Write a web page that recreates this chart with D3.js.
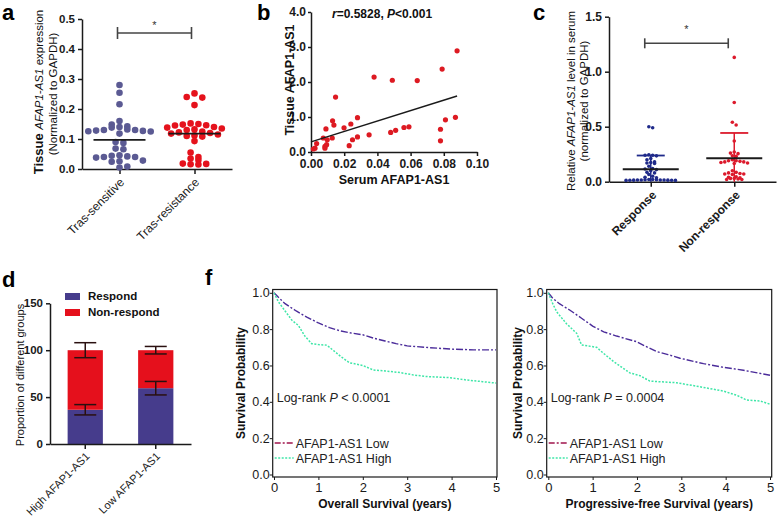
<!DOCTYPE html>
<html><head><meta charset="utf-8">
<script src="https://cdn.jsdelivr.net/npm/d3@7"></script>
<style>
body{margin:0;background:#fff;}
svg{font-family:"Liberation Sans",Arial,sans-serif;}
</style></head>
<body>
<svg id="fig" width="778" height="520"></svg>
<script>
// ---------- DATA ----------
// panel a
const aCategories = ["Tras-sensitive","Tras-resistance"];
const aSensitive = [0.28,0.254,0.216,0.16,0.148,0.142,0.14,0.138,0.132,0.13,0.13,0.128,0.127,0.126,0.125,0.118,0.09,0.087,0.068,0.066,0.046,0.044,0.042,0.04,0.04,0.038,0.028,0.026,0.024,0.008,0.005];
const aResistance = [0.252,0.24,0.238,0.213,0.152,0.15,0.148,0.146,0.145,0.14,0.138,0.135,0.132,0.13,0.125,0.122,0.12,0.118,0.115,0.112,0.11,0.108,0.093,0.055,0.04,0.035,0.03,0.018,0.017,0.016,0.015];
const aMeans = [0.097,0.118];
const aTicks = [0,0.1,0.2,0.3,0.4,0.5];
// panel b
const bSerum = [0.0014,0.0024,0.0034,0.0074,0.0084,0.0084,0.0094,0.009,0.0098,0.0128,0.013,0.0138,0.0148,0.0199,0.023,0.024,0.025,0.028,0.028,0.035,0.038,0.048,0.049,0.051,0.056,0.059,0.064,0.078,0.078,0.079,0.081,0.087,0.088];
const bTissue = [0.086,0.11,0.24,0.40,0.16,0.11,0.21,0.66,0.35,0.40,0.89,0.77,1.57,0.69,0.18,0.80,0.35,0.98,0.43,0.49,2.14,0.56,2.05,0.62,0.70,0.72,2.04,0.65,0.32,2.37,0.92,0.99,2.89];
const bFit = {intercept:0.29, slope:14.9, xMax:0.088};
const bXTicks = [0,0.02,0.04,0.06,0.08,0.10];
const bYTicks = [0,1,2,3,4];
// panel c
const cCategories = ["Response","Non-response"];
const cResponse = [0.50,0.49,0.245,0.24,0.24,0.235,0.21,0.2,0.18,0.175,0.17,0.165,0.14,0.12,0.115,0.11,0.10,0.085,0.08,0.065,0.05,0.04,0.035,0.02,0.02,0.018,0.018,0.016,0.016,0.015,0.015,0.014,0.014,0.013,0.013,0.012,0.012];
const cNonResponse = [1.13,0.72,0.54,0.515,0.37,0.27,0.26,0.255,0.235,0.23,0.2,0.19,0.19,0.185,0.18,0.18,0.175,0.17,0.165,0.1,0.085,0.08,0.075,0.07,0.07,0.065,0.045,0.04,0.035,0.03,0.03,0.025,0.02,0.02];
const cMeans = [0.113,0.213];
const cSD = [0.125,0.23];
const cTicks = [0,0.5,1.0,1.5];
// panel d
const dCategories = ["High AFAP1-AS1","Low AFAP1-AS1"];
const dRespond = [36.5,59.5];
const dRespondErr = [5.5,7.2];
const dNonRespond = [63.5,40.5];
const dNonRespondErr = [8,4];
const dTicks = [0,50,100,150];
// panel f
const osLowTime = [0,0.1,0.25,0.5,0.75,1,1.25,1.5,1.75,2,2.25,2.5,2.75,3,3.5,4,4.5,5];
const osLow = [1.0,0.975,0.94,0.9,0.865,0.834,0.808,0.79,0.778,0.769,0.75,0.735,0.72,0.708,0.698,0.69,0.686,0.686];
const osHighTime = [0,0.1,0.25,0.4,0.55,0.7,0.85,1.0,1.19,1.35,1.5,1.7,2.0,2.24,2.5,2.84,3.14,3.44,3.97,4.34,4.7,5];
const osHigh = [1.0,0.95,0.9,0.85,0.82,0.76,0.72,0.715,0.712,0.68,0.65,0.615,0.6,0.575,0.57,0.561,0.548,0.539,0.533,0.52,0.511,0.503];
const pfsLowTime = [0,0.1,0.25,0.49,0.75,1.0,1.25,1.54,1.99,2.2,2.44,2.7,2.97,3.5,3.95,4.4,5];
const pfsLow = [1.0,0.97,0.94,0.904,0.86,0.817,0.785,0.762,0.731,0.705,0.677,0.66,0.64,0.61,0.59,0.574,0.546];
const pfsHighTime = [0,0.1,0.19,0.41,0.64,0.75,1.09,1.24,1.47,1.84,2.07,2.29,2.89,3.35,3.95,4.25,4.47,4.77,5];
const pfsHigh = [1.0,0.94,0.895,0.83,0.777,0.713,0.70,0.668,0.622,0.559,0.544,0.514,0.505,0.486,0.459,0.436,0.41,0.405,0.387];
const fXTicks = [0,1,2,3,4,5];
const fYTicks = [0,0.2,0.4,0.6,0.8,1.0];

// ---------- DRAWING ----------
const svg = d3.select("#fig");
const INK = "#1a1a1a";

function styleAxis(g, size, weight){
  g.select(".domain").attr("stroke",INK).attr("stroke-width",1.5);
  g.selectAll(".tick line").attr("stroke",INK).attr("stroke-width",1.5);
  g.selectAll(".tick text").attr("fill",INK).style("font-size",size+"px").style("font-weight",weight).style("font-family","'Liberation Sans',Arial,sans-serif");
}
function panelLabel(t,x,y){
  svg.append("text").attr("x",x).attr("y",y).text(t).style("font-size","22px").style("font-weight","bold").attr("fill","#000");
}
// row-binned scatter layout (GraphPad style)
function rowLayout(vals, y, cx, binH, spacing){
  const pts = vals.map(v=>({v,y:y(v)})).sort((a,b)=>a.y-b.y);
  const groups=[]; let cur=null;
  pts.forEach(p=>{
    if(cur && p.y-cur[0].y<=binH) cur.push(p); else {cur=[p]; groups.push(cur);}
  });
  groups.forEach(g=>{
    const n=g.length;
    const order=[...g].sort((a,b)=>a.y-b.y);
    const slots=d3.range(n).map(j=>(j-(n-1)/2)*spacing);
    // alternate: place from centre outwards
    const sortedSlots=[...slots].sort((a,b)=>Math.abs(a)-Math.abs(b)||a-b);
    order.forEach((p,j)=>{p.x=cx+sortedSlots[j];});
  });
  return pts;
}
function rotLabels(g, dx, dy, size, weight){
  g.selectAll(".tick text").attr("text-anchor","end").attr("dy",null)
    .attr("transform",`translate(${dx},${dy}) rotate(-45)`).attr("y",0).attr("x",0)
    .style("font-size",size+"px").style("font-weight",weight);
}

// ===== Panel a =====
(function(){
  const x = d3.scalePoint().domain(aCategories).range([82,232]).padding(0.5);
  const y = d3.scaleLinear().domain([0,0.5]).range([169,19]);
  const gy = svg.append("g").attr("transform","translate(82,0)").call(d3.axisLeft(y).tickValues(aTicks).tickFormat(d3.format(".1f")).tickSize(4).tickSizeOuter(0));
  styleAxis(gy,11.5,"bold");
  const gx = svg.append("g").attr("transform","translate(0,169)").call(d3.axisBottom(x).tickSize(5).tickSizeOuter(0));
  styleAxis(gx,12,"normal");
  rotLabels(gx,5,14,12,"normal");
  const sets=[aSensitive,aResistance], cols=["#5b5a93","#e5121c"];
  sets.forEach((vals,i)=>{
    const cx=x(aCategories[i]);
    svg.append("g").selectAll("circle").data(rowLayout(vals,y,cx,5.5,7.8)).join("circle")
      .attr("cx",d=>d.x).attr("cy",d=>d.y).attr("r",3.3).attr("fill",cols[i]);
    svg.append("line").attr("x1",cx-26).attr("x2",cx+26).attr("y1",y(aMeans[i])).attr("y2",y(aMeans[i])).attr("stroke",INK).attr("stroke-width",1.8);
  });
  const bx1=x(aCategories[0])-2, bx2=x(aCategories[1])-3, by=33;
  const br=svg.append("g").attr("stroke","#444").attr("stroke-width",1.6);
  br.append("line").attr("x1",bx1).attr("x2",bx2).attr("y1",by).attr("y2",by);
  br.append("line").attr("x1",bx1).attr("x2",bx1).attr("y1",by-6).attr("y2",by+6);
  br.append("line").attr("x1",bx2).attr("x2",bx2).attr("y1",by-6).attr("y2",by+6);
  svg.append("text").attr("x",(bx1+bx2)/2).attr("y",29).attr("text-anchor","middle").text("*").style("font-size","11px").attr("fill","#333");
  const yl = svg.append("text").attr("transform","translate(43,92) rotate(-90)").attr("text-anchor","middle").attr("fill","#111");
  yl.append("tspan").text("Tissue ").style("font-weight","bold").style("font-size","13px");
  yl.append("tspan").text("AFAP1-AS1").style("font-style","italic").style("font-size","11.5px");
  yl.append("tspan").text(" expression").style("font-size","11.5px");
  svg.append("text").attr("transform","translate(57,94) rotate(-90)").attr("text-anchor","middle").text("(Normalized to GAPDH)").style("font-size","11.5px").attr("fill","#111");
  panelLabel("a",2,20);
})();

// ===== Panel b =====
(function(){
  const x = d3.scaleLinear().domain([0,0.10]).range([311,477]);
  const y = d3.scaleLinear().domain([0,4]).range([152,12]);
  const gy = svg.append("g").attr("transform","translate(311,0)").call(d3.axisLeft(y).tickValues(bYTicks).tickSize(3).tickPadding(2).tickSizeOuter(0));
  styleAxis(gy,12,"bold");
  const gx = svg.append("g").attr("transform","translate(0,152)").call(d3.axisBottom(x).tickValues(bXTicks).tickFormat(d3.format(".2f")).tickSize(4).tickSizeOuter(0));
  styleAxis(gx,12,"bold");
  svg.append("g").selectAll("circle").data(bSerum.map((s,i)=>[s,bTissue[i]])).join("circle")
    .attr("cx",d=>x(d[0])).attr("cy",d=>y(d[1])).attr("r",2.6).attr("fill","#dd1a22");
  svg.append("line").attr("x1",x(0)).attr("y1",y(bFit.intercept)).attr("x2",x(bFit.xMax)).attr("y2",y(bFit.intercept+bFit.slope*bFit.xMax)).attr("stroke",INK).attr("stroke-width",1.5);
  svg.append("text").attr("transform","translate(294,80) rotate(-90)").attr("text-anchor","middle").text("Tissue AFAP1-AS1").style("font-size","12.5px").style("font-weight","bold").attr("fill","#111");
  svg.append("text").attr("x",394).attr("y",184).attr("text-anchor","middle").text("Serum AFAP1-AS1").style("font-size","12.5px").style("font-weight","bold").attr("fill","#111");
  const ann = svg.append("text").attr("x",332).attr("y",18).style("font-size","12px").style("font-weight","bold").attr("fill","#111");
  ann.append("tspan").text("r").style("font-style","italic");
  ann.append("tspan").text("=0.5828, ");
  ann.append("tspan").text("P").style("font-style","italic");
  ann.append("tspan").text("<0.001");
  panelLabel("b",257,20);
})();

// ===== Panel c =====
(function(){
  const x = d3.scalePoint().domain(cCategories).range([609,776]).padding(0.5);
  const y = d3.scaleLinear().domain([0,1.5]).range([181.7,16.7]);
  const gy = svg.append("g").attr("transform","translate(609,0)").call(d3.axisLeft(y).tickValues(cTicks).tickFormat(d3.format(".1f")).tickSize(4).tickSizeOuter(0));
  styleAxis(gy,12,"bold");
  const gx = svg.append("g").attr("transform","translate(0,181.7)").call(d3.axisBottom(x).tickSize(5).tickSizeOuter(0));
  styleAxis(gx,12,"bold");
  rotLabels(gx,6,14,12,"bold");
  const sets=[cResponse,cNonResponse], cols=["#1f2a8a","#dc1a2c"];
  sets.forEach((vals,i)=>{
    const cx=x(cCategories[i]);
    svg.append("g").selectAll("circle").data(rowLayout(vals,y,cx,3.5,3.8)).join("circle")
      .attr("cx",d=>d.x).attr("cy",d=>d.y).attr("r",1.8).attr("fill",cols[i]);
    const top=y(cMeans[i]+cSD[i]), bot=y(Math.max(0,cMeans[i]-cSD[i]));
    svg.append("line").attr("x1",cx).attr("x2",cx).attr("y1",top).attr("y2",bot).attr("stroke",cols[i]).attr("stroke-width",1.5);
    svg.append("line").attr("x1",cx-14).attr("x2",cx+14).attr("y1",top).attr("y2",top).attr("stroke",cols[i]).attr("stroke-width",1.8);
    svg.append("line").attr("x1",cx-28).attr("x2",cx+28).attr("y1",y(cMeans[i])).attr("y2",y(cMeans[i])).attr("stroke",INK).attr("stroke-width",1.8);
  });
  const bx1=x(cCategories[0])-6, bx2=x(cCategories[1])-6, by=43.3;
  const br=svg.append("g").attr("stroke","#444").attr("stroke-width",1.6);
  br.append("line").attr("x1",bx1).attr("x2",bx2).attr("y1",by).attr("y2",by);
  br.append("line").attr("x1",bx1).attr("x2",bx1).attr("y1",by-5).attr("y2",by+5);
  br.append("line").attr("x1",bx2).attr("x2",bx2).attr("y1",by-5).attr("y2",by+5);
  svg.append("text").attr("x",(bx1+bx2)/2).attr("y",33).attr("text-anchor","middle").text("*").style("font-size","11px").attr("fill","#333");
  const yl = svg.append("text").attr("transform","translate(575,101) rotate(-90)").attr("text-anchor","middle").style("font-size","11.5px").attr("fill","#111");
  yl.append("tspan").text("Relative ");
  yl.append("tspan").text("AFAP1-AS1").style("font-style","italic");
  yl.append("tspan").text(" level in serum");
  svg.append("text").attr("transform","translate(588,101) rotate(-90)").attr("text-anchor","middle").text("(normalized to GAPDH)").style("font-size","11.5px").attr("fill","#111");
  panelLabel("c",533,20);
})();

// ===== Panel d =====
(function(){
  const x = d3.scaleBand().domain(dCategories).range([50,191]).paddingInner(0.5).paddingOuter(0.25);
  const y = d3.scaleLinear().domain([0,150]).range([444,303.3]);
  const cRes="#463c8c", cNon="#e5101c";
  dCategories.forEach((c,i)=>{
    const x0=x(c), w=x.bandwidth(), cx=x0+w/2;
    svg.append("rect").attr("x",x0).attr("width",w).attr("y",y(dRespond[i])).attr("height",y(0)-y(dRespond[i])).attr("fill",cRes);
    const tot=dRespond[i]+dNonRespond[i];
    svg.append("rect").attr("x",x0).attr("width",w).attr("y",y(tot)).attr("height",y(dRespond[i])-y(tot)).attr("fill",cNon);
    const eb=svg.append("g").attr("stroke","#2a1010").attr("stroke-width",1.5);
    [[dRespond[i],dRespondErr[i]],[tot,dNonRespondErr[i]]].forEach(([v,e])=>{
      eb.append("line").attr("x1",cx).attr("x2",cx).attr("y1",y(v-e)).attr("y2",y(v+e));
      eb.append("line").attr("x1",cx-11).attr("x2",cx+11).attr("y1",y(v-e)).attr("y2",y(v-e));
      eb.append("line").attr("x1",cx-11).attr("x2",cx+11).attr("y1",y(v+e)).attr("y2",y(v+e));
    });
  });
  const gy = svg.append("g").attr("transform","translate(50,0)").call(d3.axisLeft(y).tickValues(dTicks).tickSize(4).tickSizeOuter(0));
  styleAxis(gy,11.5,"bold");
  const gx = svg.append("g").attr("transform","translate(0,444)").call(d3.axisBottom(x).tickSize(5).tickSizeOuter(0));
  styleAxis(gx,11,"normal");
  rotLabels(gx,5,13,11,"normal");
  const leg=[["Respond",cRes,293],["Non-respond",cNon,309]];
  leg.forEach(([t,c,yy])=>{
    svg.append("rect").attr("x",65).attr("y",yy).attr("width",15).attr("height",7).attr("fill",c);
    svg.append("text").attr("x",88).attr("y",yy+7).text(t).style("font-size","11.5px").style("font-weight","bold").attr("fill","#111");
  });
  svg.append("text").attr("transform","translate(24,375) rotate(-90)").attr("text-anchor","middle").text("Proportion of different groups").style("font-size","11px").attr("fill","#111");
  panelLabel("d",2,287);
})();

// ===== Panel f =====
function kmPanel(opts){
  const x = d3.scaleLinear().domain([0,5]).range([opts.x0,opts.x1]);
  const y = d3.scaleLinear().domain([0,1]).range([474.5,292.8]);
  svg.append("rect").attr("x",opts.bx0).attr("y",289.5).attr("width",opts.bx1-opts.bx0).attr("height",477-289.5).attr("fill","none").attr("stroke",INK).attr("stroke-width",1.2);
  const gy = svg.append("g").attr("transform",`translate(${opts.bx0},0)`).call(d3.axisLeft(y).tickValues(fYTicks).tickFormat(d3.format(".1f")).tickSize(3).tickSizeOuter(0));
  styleAxis(gy,12.5,"normal"); gy.select(".domain").remove(); gy.selectAll(".tick line").attr("stroke-width",1);
  gy.selectAll(".tick text").attr("x",-3);
  const gx = svg.append("g").attr("transform","translate(0,477)").call(d3.axisBottom(x).tickValues(fXTicks).tickFormat(d3.format("d")).tickSize(3).tickSizeOuter(0));
  styleAxis(gx,13,"normal"); gx.select(".domain").remove(); gx.selectAll(".tick line").attr("stroke-width",1);
  const line=d3.line().x(d=>x(d[0])).y(d=>y(d[1]));
  svg.append("path").datum(opts.lowT.map((t,i)=>[t,opts.low[i]])).attr("d",line).attr("fill","none").attr("stroke","#4b2c9a").attr("stroke-width",1.4).attr("stroke-dasharray","7,2,2,2");
  svg.append("path").datum(opts.highT.map((t,i)=>[t,opts.high[i]])).attr("d",line).attr("fill","none").attr("stroke","#3fe6a8").attr("stroke-width",1.5).attr("stroke-dasharray","2,1.5");
  const lx=opts.bx0+2;
  svg.append("line").attr("x1",lx).attr("x2",lx+19).attr("y1",443).attr("y2",443).attr("stroke","#a0154c").attr("stroke-width",1.5).attr("stroke-dasharray","6,2,2,2");
  svg.append("line").attr("x1",lx).attr("x2",lx+19).attr("y1",458).attr("y2",458).attr("stroke","#3fe6a8").attr("stroke-width",1.5).attr("stroke-dasharray","2,1.5");
  svg.append("text").attr("x",lx+21).attr("y",447.5).text("AFAP1-AS1 Low").style("font-size","12.5px").attr("fill","#222");
  svg.append("text").attr("x",lx+21).attr("y",462.5).text("AFAP1-AS1 High").style("font-size","12.5px").attr("fill","#222");
  const lr=svg.append("text").attr("x",opts.bx0+4).attr("y",401.5).style("font-size","12.5px").attr("fill","#222");
  lr.append("tspan").text("Log-rank ");
  lr.append("tspan").text("P").style("font-style","italic");
  lr.append("tspan").text(opts.p);
  svg.append("text").attr("transform",`translate(${opts.ylx},383) rotate(-90)`).attr("text-anchor","middle").text("Survival Probability").style("font-size","12px").style("font-weight","bold").attr("fill","#111");
  svg.append("text").attr("x",(opts.bx0+opts.bx1)/2).attr("y",508).attr("text-anchor","middle").text(opts.title).style("font-size","12px").style("font-weight","bold").attr("fill","#111");
}
kmPanel({x0:274,x1:496,bx0:272.7,bx1:497,lowT:osLowTime,low:osLow,highT:osHighTime,high:osHigh,p:" < 0.0001",ylx:245,title:"Overall Survival (years)"});
kmPanel({x0:548.3,x1:770,bx0:546.7,bx1:771.7,lowT:pfsLowTime,low:pfsLow,highT:pfsHighTime,high:pfsHigh,p:" = 0.0004",ylx:522,title:"Progressive-free Survival (years)"});
panelLabel("f",205,285);
</script>
</body></html>
